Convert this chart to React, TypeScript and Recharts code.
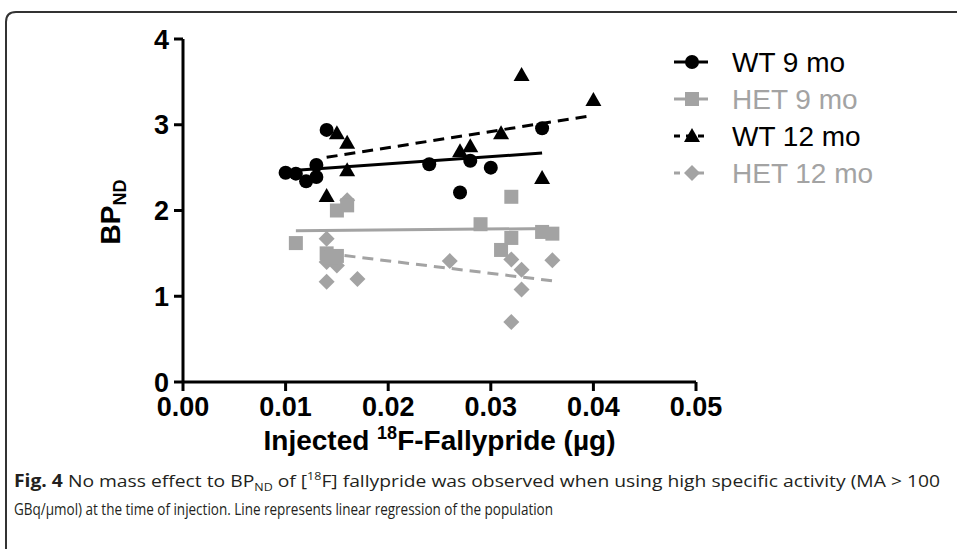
import React from "react";
import {
  ScatterChart,
  Scatter,
  XAxis,
  YAxis,
  ReferenceLine,
  Legend,
} from "recharts";

// injected mass (µg) vs BPND
const wt9: [number, number][] = [
  [0.01, 2.44], [0.011, 2.43], [0.012, 2.34], [0.013, 2.39], [0.013, 2.53],
  [0.014, 2.94], [0.024, 2.54], [0.027, 2.21], [0.028, 2.58], [0.03, 2.5],
  [0.035, 2.96],
];
const het9: [number, number][] = [
  [0.011, 1.62], [0.014, 1.5], [0.0145, 1.45], [0.015, 1.47], [0.015, 2.0],
  [0.016, 2.06], [0.029, 1.84], [0.031, 1.54], [0.032, 1.68], [0.032, 2.16],
  [0.035, 1.75], [0.036, 1.73],
];
const wt12: [number, number][] = [
  [0.014, 2.17], [0.015, 2.9], [0.016, 2.79], [0.016, 2.47], [0.027, 2.69],
  [0.028, 2.75], [0.031, 2.9], [0.033, 3.58], [0.035, 2.38], [0.04, 3.29],
];
const het12: [number, number][] = [
  [0.014, 1.67], [0.014, 1.4], [0.014, 1.17], [0.015, 1.36], [0.016, 2.12],
  [0.017, 1.2], [0.026, 1.41], [0.032, 1.43], [0.032, 0.7], [0.033, 1.31],
  [0.033, 1.08], [0.036, 1.42],
];

// regression line end points
const wt9Fit: [number, number][] = [[0.01, 2.46], [0.035, 2.67]];
const het9Fit: [number, number][] = [[0.011, 1.765], [0.036, 1.79]];
const wt12Fit: [number, number][] = [[0.014, 2.62], [0.0395, 3.1]];
const het12Fit: [number, number][] = [[0.014, 1.5], [0.036, 1.18]];

const xTicks = [0, 0.01, 0.02, 0.03, 0.04, 0.05];
const yTicks = [0, 1, 2, 3, 4];
const seriesNames = ["WT 9 mo", "HET 9 mo", "WT 12 mo", "HET 12 mo"];

const GRAY = "#a3a3a3";
const FONT = "'Liberation Sans', Arial, sans-serif";
const CAPTION_FONT = "'Open Sans', 'Noto Sans', sans-serif";

const toPts = (arr: [number, number][]) => arr.map(([x, y]) => ({ x, y }));

const Dot = (p: any) => <circle cx={p.cx} cy={p.cy} r={7} fill="#000" />;
const Sq = (p: any) => (
  <rect x={p.cx - 7} y={p.cy - 7} width={14} height={14} fill={GRAY} />
);
const Tri = (p: any) => (
  <polygon
    points={`${p.cx},${p.cy - 8} ${p.cx + 8},${p.cy + 6} ${p.cx - 8},${p.cy + 6}`}
    fill="#000"
  />
);
const Dia = (p: any) => (
  <polygon
    points={`${p.cx},${p.cy - 8} ${p.cx + 8},${p.cy} ${p.cx},${p.cy + 8} ${p.cx - 8},${p.cy}`}
    fill={GRAY}
  />
);

const legendItems = [
  { name: seriesNames[0], color: "#000", dash: undefined, Shape: Dot },
  { name: seriesNames[1], color: GRAY, dash: undefined, Shape: Sq },
  { name: seriesNames[2], color: "#000", dash: "6 6", Shape: Tri },
  { name: seriesNames[3], color: GRAY, dash: "6 6", Shape: Dia },
];

const LegendBox = () => (
  <svg width={280} height={160}>
    {legendItems.map((it, i) => {
      const y = 22 + i * 37;
      return (
        <g key={it.name}>
          <line x1={4} x2={38} y1={y} y2={y} stroke={it.color} strokeWidth={3} strokeDasharray={it.dash} />
          <it.Shape cx={22} cy={y} />
          <text x={62} y={y + 10} fontSize={28} fontFamily={FONT} fill={it.color}>
            {it.name}
          </text>
        </g>
      );
    })}
  </svg>
);

const XTitle = (props: any) => {
  const vb = props.viewBox;
  return (
    <text
      x={vb.x + vb.width / 2}
      y={450}
      textAnchor="middle"
      fontSize={28}
      fontWeight={700}
      fontFamily={FONT}
      fill="#000"
    >
      Injected <tspan fontSize={18} dy={-11}>18</tspan>
      <tspan dy={11}>F-Fallypride (µg)</tspan>
    </text>
  );
};

const YTitle = () => {
  const cx = 120;
  const cy = 212;
  return (
    <text
      x={cx}
      y={cy}
      transform={`rotate(-90 ${cx} ${cy})`}
      textAnchor="middle"
      fontSize={28}
      fontWeight={700}
      fontFamily={FONT}
      fill="#000"
    >
      BP<tspan fontSize={18} dy={6}>ND</tspan>
    </text>
  );
};

const fitLine = (fit: [number, number][], color: string, dash?: string) => (
  <ReferenceLine
    segment={[{ x: fit[0][0], y: fit[0][1] }, { x: fit[1][0], y: fit[1][1] }]}
    stroke={color}
    strokeWidth={3}
    strokeDasharray={dash}
    ifOverflow="visible"
  />
);

export default function App() {
  const tickStyle = { fill: "#000", fontSize: 27, fontWeight: 700, fontFamily: FONT };
  return (
    <div style={{ position: "absolute", left: 0, top: 0, width: 957, height: 549, background: "#fff", overflow: "hidden" }}>
      <svg width={957} height={549} style={{ position: "absolute", left: 0, top: 0 }}>
        <path d="M 6 549 L 6 22 Q 6 12 16 12 L 957 12" fill="none" stroke="#333" strokeWidth={2} />
        <g fontFamily={CAPTION_FONT} fontSize={17} fill="#231f20">
          <text x={14} y={487} textLength={926} lengthAdjust="spacingAndGlyphs">
            <tspan fontWeight={700}>Fig. 4</tspan> No mass effect to BP
            <tspan fontSize={11} dy={4}>ND</tspan>
            <tspan dy={-4}> of [</tspan>
            <tspan fontSize={11} dy={-7}>18</tspan>
            <tspan dy={7}>F] fallypride was observed when using high specific activity (MA &gt; 100</tspan>
          </text>
          <text x={14} y={515} textLength={539} lengthAdjust="spacingAndGlyphs">
            GBq/µmol) at the time of injection. Line represents linear regression of the population
          </text>
        </g>
      </svg>
      <div style={{ position: "absolute", left: 0, top: 0 }}>
        <ScatterChart width={957} height={549} margin={{ top: 39, right: 261, bottom: 137, left: 123 }}>
          <XAxis
            type="number"
            dataKey="x"
            domain={[0, 0.05]}
            ticks={xTicks}
            interval={0}
            tickFormatter={(v: number) => v.toFixed(2)}
            axisLine={{ stroke: "#000", strokeWidth: 3 }}
            tickLine={{ stroke: "#000", strokeWidth: 3 }}
            tickSize={9}
            tickMargin={6}
            tick={tickStyle}
            height={30}
            label={<XTitle />}
          />
          <YAxis
            type="number"
            dataKey="y"
            domain={[0, 4]}
            ticks={yTicks}
            interval={0}
            axisLine={{ stroke: "#000", strokeWidth: 3 }}
            tickLine={{ stroke: "#000", strokeWidth: 3 }}
            tickSize={9}
            tickMargin={5}
            tick={tickStyle}
            width={60}
            label={<YTitle />}
          />
          {fitLine(het12Fit, GRAY, "11 7")}
          {fitLine(het9Fit, GRAY)}
          {fitLine(wt9Fit, "#000")}
          {fitLine(wt12Fit, "#000", "11 7")}
          <Scatter name={seriesNames[3]} data={toPts(het12)} shape={Dia} isAnimationActive={false} />
          <Scatter name={seriesNames[1]} data={toPts(het9)} shape={Sq} isAnimationActive={false} />
          <Scatter name={seriesNames[0]} data={toPts(wt9)} shape={Dot} isAnimationActive={false} />
          <Scatter name={seriesNames[2]} data={toPts(wt12)} shape={Tri} isAnimationActive={false} />
          <Legend
            layout="vertical"
            align="center"
            verticalAlign="middle"
            content={<LegendBox />}
            wrapperStyle={{ left: 670, top: 40, width: 280, height: 160 }}
          />
        </ScatterChart>
      </div>
    </div>
  );
}
